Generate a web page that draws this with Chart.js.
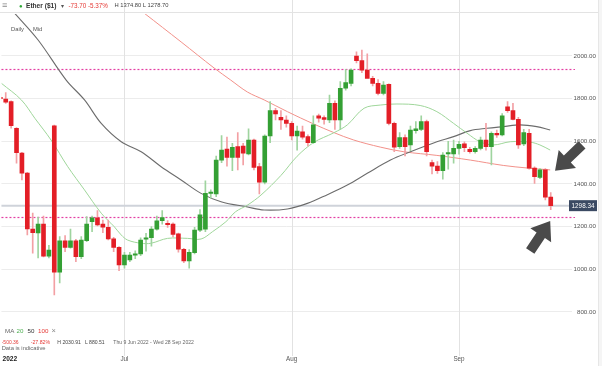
<!DOCTYPE html>
<html><head><meta charset="utf-8">
<script src="https://cdn.jsdelivr.net/npm/chart.js@4.4.1/dist/chart.umd.min.js"></script>
<style>
html,body{margin:0;padding:0;background:#fff;}
#wrap{position:relative;width:602px;height:366px;overflow:hidden;font-family:"Liberation Sans",Arial,sans-serif;}
#c{position:absolute;left:0;top:0;}
.t{position:absolute;white-space:nowrap;line-height:1;pointer-events:none;}
</style></head><body>
<div id="wrap">
<canvas id="c" width="602" height="366"></canvas>
<div class="t" style="left:0;top:12px;width:598px;height:1px;background:#e3e3e3"></div>
<div class="t" style="left:598px;top:0;width:4px;height:366px;background:#f5f5f5;border-left:1px solid #e6e6e6"></div>
<div class="t" style="left:2px;top:0.5px;font-size:9px;color:#888">&#8801;</div>
<div class="t" style="left:19px;top:2.5px;font-size:6px;color:#2ea836">&#9679;</div>
<div class="t" style="left:26px;top:2.8px;font-size:6.6px;color:#333;font-weight:bold">Ether ($1)</div>
<div class="t" style="left:60.5px;top:3px;font-size:6px;color:#555">&#9662;</div>
<div class="t" style="left:68.5px;top:3px;font-size:6.3px;color:#e53935">-73.70</div>
<div class="t" style="left:88px;top:3px;font-size:6.3px;color:#e53935">-5.37%</div>
<div class="t" style="left:114.5px;top:3px;font-size:5.8px;color:#444">H 1374.80 L 1278.70</div>
<div class="t" style="left:11px;top:26.5px;font-size:5.8px;color:#555">Daily</div>
<div class="t" style="left:33px;top:26.5px;font-size:5.8px;color:#555">Mid</div>
<div class="t" style="left:5px;top:328px;font-size:6.2px;color:#666">MA</div>
<div class="t" style="left:16.5px;top:328px;font-size:6.2px;color:#4caf50">20</div>
<div class="t" style="left:27.5px;top:328px;font-size:6.2px;color:#333">50</div>
<div class="t" style="left:38px;top:328px;font-size:6.2px;color:#e53935">100</div>
<div class="t" style="left:51.5px;top:327px;font-size:7.5px;color:#888">&#215;</div>
<div class="t" style="left:1.7px;top:339.8px;font-size:5px;color:#e53935">-500.36</div>
<div class="t" style="left:30.7px;top:339.8px;font-size:5.2px;color:#e53935">-27.82%</div>
<div class="t" style="left:57.3px;top:339.8px;font-size:5.1px;color:#444">H 2030.91</div>
<div class="t" style="left:85px;top:339.8px;font-size:5.1px;color:#444">L 880.51</div>
<div class="t" style="left:113.3px;top:339.8px;font-size:5.1px;color:#666">Thu 9 Jun 2022 - Wed 28 Sep 2022</div>
<div class="t" style="left:1.7px;top:346px;font-size:5.8px;color:#666">Data is indicative</div>
</div>
<script>
// ---- DATA ----
const firstDay = -1; // day index of first candle (Jun 8 2022; Jun 9 = 0)
const opens  = [1806,1798,1786,1661,1545,1451,1189,1170,1212,1062,1673,986,1134,1103,1134,1059,1134,1223,1241,1212,1197,1143,1103,
  1020,1044,1066,1072,1141,1148,1188,1228,1216,1212,1166,1094,1039,1078,1184,1188,1356,1353,1512,1564,1525,1575,1578,1541,1606,1481,1408,1625,1744,1713,1700,
  1684,1625,1645,1622,1594,1719,1711,1700,1778,1700,1849,1872,2000,1978,1934,1895,1872,1825,1867,1684,1575,1617,1583,1650,1656,1692,1500,1484,1462,1541,1541,
  1567,1588,1563,1551,1567,1606,1575,1638,1630,1762,1744,1703,1588,1638,1474,1431,1466,1338];
const highs  = [1825,1828,1790,1665,1548,1455,1264,1245,1250,1112,1676,1153,1158,1188,1140,1153,1247,1250,1275,1231,1231,1150,1106,
  1080,1080,1087,1148,1169,1200,1250,1275,1228,1218,1170,1098,1092,1197,1280,1415,1372,1531,1627,1620,1590,1641,1590,1658,1610,1497,1630,1786,1755,1744,1719,
  1692,1672,1672,1630,1719,1728,1719,1817,1790,1880,1938,1940,2020,2028,2010,1905,1890,1880,1870,1690,1641,1630,1672,1692,1719,1700,1512,1505,1547,1600,1606,
  1600,1598,1572,1575,1620,1684,1645,1653,1730,1786,1778,1712,1656,1656,1480,1472,1472,1360];
const lows   = [1790,1778,1662,1498,1419,1161,1076,1053,1058,1053,880,936,1083,1099,1036,1050,1130,1177,1203,1172,1138,1083,994,
  1005,1036,1050,1064,1085,1108,1183,1212,1196,1152,1080,1031,1005,1072,1177,1177,1333,1340,1500,1484,1462,1466,1489,1536,1466,1353,1400,1594,1700,1656,1666,
  1606,1559,1610,1578,1590,1690,1680,1688,1656,1656,1840,1860,1968,1922,1900,1860,1817,1818,1677,1551,1567,1531,1556,1638,1650,1531,1447,1450,1422,1470,1497,
  1540,1551,1545,1545,1560,1559,1489,1618,1625,1735,1700,1567,1580,1470,1403,1425,1325,1279];
const closes = [1800,1784,1673,1547,1451,1189,1172,1212,1062,1090,986,1134,1103,1134,1059,1137,1212,1241,1208,1197,1143,1103,1020,
  1067,1067,1072,1137,1148,1188,1227,1242,1209,1164,1094,1039,1080,1184,1255,1356,1359,1512,1559,1525,1572,1525,1544,1606,1478,1408,1625,1744,1728,1700,1684,
  1625,1648,1619,1594,1677,1709,1703,1778,1700,1849,1875,1934,1978,1934,1895,1872,1825,1864,1684,1572,1617,1575,1653,1659,1692,1551,1484,1462,1536,1547,1567,
  1586,1570,1551,1567,1606,1575,1638,1630,1719,1744,1703,1583,1641,1474,1434,1466,1338,1298.34];
// moving averages: [day, value]
const ma20 = [[-0.8,1872],[2.9,1794],[5.4,1708],[8.4,1606],[11.5,1481],[14.6,1372],[17.7,1263],[20.1,1200],[21.4,1161],[22.6,1137],[25.1,1122],[26.9,1122],
  [30,1145],[33.7,1145],[36.2,1142],[38.3,1176],[40.8,1223],[42.6,1270],[44.8,1301],[47.3,1348],[51,1440],[54,1530],[57.1,1595],[60.8,1640],[63.3,1677],
  [66.4,1755],[69.4,1770],[72.5,1775],[76.8,1768],[79.9,1739],[83,1684],[85.5,1638],[87.9,1598],[90.4,1583],[93.5,1598],[97.2,1596],[99,1583],[100.9,1559]];
const ma50 = [[1.6,2202],[6,2075],[11.2,1887],[14.6,1794],[17.7,1684],[21.4,1598],[25.1,1551],[28.8,1481],[32.5,1419],[36.2,1356],[39.9,1317],[44.8,1292],
  [47.9,1278],[52.2,1283],[55.9,1309],[59.6,1350],[63.3,1395],[67,1450],[71.3,1512],[75,1551],[79.9,1598],[83,1622],[86.1,1650],[89.2,1661],[92.2,1669],
  [95.3,1677],[98.4,1669],[100.9,1653]];
const ma100 = [[25.6,2202],[32.5,2066],[38.6,1944],[41.7,1887],[44.8,1831],[47.9,1794],[52.2,1739],[57.1,1681],[60.8,1641],[64.5,1606],[69.4,1573],
  [73.8,1551],[79.9,1534],[86.1,1512],[92.2,1487],[96.6,1475],[100.9,1466]];
const levels = [1939, 1244];
const lastPrice = 1298.34;
const yTicks = [800,1000,1200,1400,1600,1800,2000];
const xTickDays = [0.76, 22, 53, 84];
const xTickLabels = ['2022','Jul','Aug','Sep'];
const monthDays = [22, 53, 84];
const arrows = [ {from:[106.8,1583], to:[101.8,1462]}, {from:[97.2,1086], to:[100.9,1226]} ];

// ---- CHART ----
const GREEN='#34a034', RED='#e31e26', GREEN_W='#9fd49f', RED_W='#f3a0a4';
const up = i => closes[i] >= opens[i];
const wickData = opens.map((o,i)=>({x:firstDay+i, y:[lows[i], highs[i]]}));
const bodyData = opens.map((o,i)=>({x:firstDay+i, y:[o, closes[i]]}));
const pts = a => a.map(p=>({x:p[0], y:p[1]}));

Chart.defaults.font.family = '"Liberation Sans", Arial, sans-serif';

function drawArrow(ctx,x1,y1,x2,y2,shaft,headW,headL){
  const dx=x2-x1, dy=y2-y1, len=Math.hypot(dx,dy), ux=dx/len, uy=dy/len, nx=-uy, ny=ux;
  const bx=x2-ux*headL, by=y2-uy*headL;
  ctx.beginPath();
  ctx.moveTo(x1+nx*shaft/2, y1+ny*shaft/2);
  ctx.lineTo(bx+nx*shaft/2, by+ny*shaft/2);
  ctx.lineTo(bx+nx*headW/2, by+ny*headW/2);
  ctx.lineTo(x2,y2);
  ctx.lineTo(bx-nx*headW/2, by-ny*headW/2);
  ctx.lineTo(bx-nx*shaft/2, by-ny*shaft/2);
  ctx.lineTo(x1-nx*shaft/2, y1-ny*shaft/2);
  ctx.closePath(); ctx.fill();
}

const overlay = {
  id:'overlay',
  beforeDatasetsDraw(chart){
    const {ctx, chartArea:a, scales:{x,y}} = chart;
    ctx.save();
    ctx.strokeStyle='#e2e2e2'; ctx.lineWidth=1;
    monthDays.forEach(d=>{const px=Math.round(x.getPixelForValue(d))+0.5; ctx.beginPath(); ctx.moveTo(px,0); ctx.lineTo(px,a.bottom+3); ctx.stroke();});
    const py=y.getPixelForValue(lastPrice);
    ctx.strokeStyle='#cfd3da'; ctx.lineWidth=2; ctx.beginPath(); ctx.moveTo(a.left,py); ctx.lineTo(a.right,py); ctx.stroke();
    ctx.strokeStyle='#e33fa3'; ctx.lineWidth=1.2; ctx.setLineDash([2,2]);
    levels.forEach(v=>{const ly=Math.round(y.getPixelForValue(v))+0.5; ctx.beginPath(); ctx.moveTo(a.left,ly); ctx.lineTo(a.right+3,ly); ctx.stroke();});
    ctx.restore();
  },
  afterDraw(chart){
    const {ctx, scales:{x,y}} = chart;
    ctx.save();
    ctx.fillStyle='#4a4a4a';
    arrows.forEach(ar=>{
      drawArrow(ctx, x.getPixelForValue(ar.from[0]), y.getPixelForValue(ar.from[1]), x.getPixelForValue(ar.to[0]), y.getPixelForValue(ar.to[1]), 10, 25, 17);
    });
    const py=y.getPixelForValue(lastPrice);
    ctx.fillStyle='#3b4a63';
    ctx.fillRect(569, py-5.5, 28, 11);
    ctx.fillStyle='#fff'; ctx.font='6.3px "Liberation Sans", Arial, sans-serif';
    ctx.textAlign='center'; ctx.textBaseline='middle';
    ctx.fillText(lastPrice.toFixed(2), 583, py+0.5);
    ctx.restore();
  }
};

new Chart(document.getElementById('c'), {
  type:'bar',
  data:{datasets:[
    {type:'line', data:pts(ma20), borderColor:'#9fd69a', borderWidth:1, pointRadius:0, tension:0.35, order:4},
    {type:'line', data:pts(ma50), borderColor:'#6c6c6c', borderWidth:1.1, pointRadius:0, tension:0.35, order:5},
    {type:'line', data:pts(ma100), borderColor:'#f2918a', borderWidth:1, pointRadius:0, tension:0.35, order:6},
    {data:wickData, grouped:false, barThickness:1, order:2,
      backgroundColor:c=>up(c.dataIndex)?GREEN_W:RED_W},
    {data:bodyData, grouped:false, barThickness:4, minBarLength:1.2, order:1,
      backgroundColor:c=>up(c.dataIndex)?GREEN:RED}
  ]},
  options:{
    responsive:false, animation:false,
    layout:{padding:{top:14,left:0,right:0,bottom:0}},
    plugins:{legend:{display:false}, tooltip:{enabled:false}},
    scales:{
      x:{type:'linear', min:-0.795, max:104.94, offset:false,
        grid:{display:false, drawTicks:false}, border:{display:false},
        afterBuildTicks:s=>{s.ticks=xTickDays.map(v=>({value:v}));},
        afterFit:s=>{s.height=13;},
        ticks:{autoSkip:false, maxRotation:0, padding:2.5,
          callback:(v,i)=>xTickLabels[i],
          color:c=>c.index===0?'#222':'#555',
          font:c=>({size:c.index===0?6.6:6.3, weight:c.index===0?'bold':'normal'})}
      },
      y:{position:'right', min:607.6, max:2196.9,
        grid:{color:'#ececec', drawTicks:false}, border:{display:false},
        afterBuildTicks:s=>{s.ticks=yTicks.map(v=>({value:v}));},
        afterFit:s=>{s.width=30;},
        ticks:{padding:1.5, crossAlign:'near', color:'#555', font:{size:6.2},
          callback:v=>(v<1000?'\u2007':'')+Number(v).toFixed(2)}
      }
    }
  },
  plugins:[overlay]
});
</script>
</body></html>
